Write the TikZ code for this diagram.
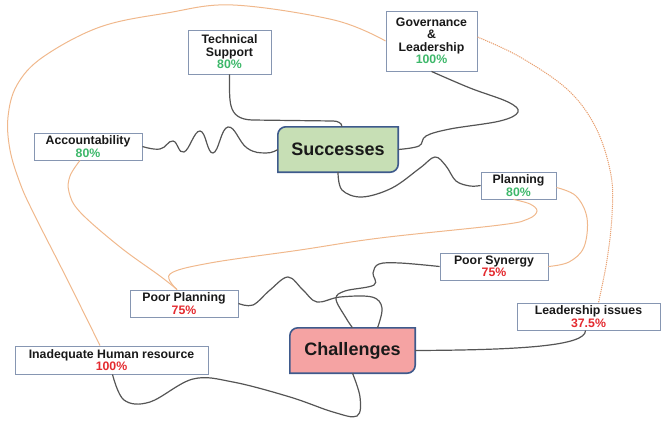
\documentclass[tikz,border=0pt]{standalone}
\usepackage{fontspec}
\setmainfont{Liberation Sans}
\usetikzlibrary{calc}
\definecolor{gtxt}{HTML}{3DB86A}
\definecolor{rtxt}{HTML}{E42A2F}
\definecolor{boxline}{HTML}{8696B2}
\definecolor{bigline}{HTML}{3E5A8C}
\definecolor{sfill}{HTML}{C7DFB5}
\definecolor{cfill}{HTML}{F5A3A3}
\definecolor{conn}{HTML}{555555}
\definecolor{orng}{HTML}{F0B88C}
\definecolor{orngd}{HTML}{E8A070}
\pgfdeclarelayer{bg}
\pgfsetlayers{bg,main}
\begin{document}
\begin{tikzpicture}[x=1pt,y=-1pt,
  lbl/.style={draw=boxline, line width=0.9pt, fill=white, align=center, inner sep=0pt,
    font=\fontsize{12.3}{12.5}\selectfont\bfseries, text=black!90},
  bignode/.style={inner sep=0pt, font=\fontsize{18}{20}\selectfont\bfseries, text=black!90},
  bigshape/.style={draw=bigline, line width=1.6pt},
  con/.style={draw=conn, line width=1.2pt},
  oline/.style={draw=orng, line width=1pt},
  odot/.style={draw=orngd, line width=1pt, dash pattern=on 1.2pt off 0.9pt}]
\useasboundingbox (0,0) rectangle (669,423);

% nodes
\node[lbl, minimum width=83pt, minimum height=44pt] (ts) at (229.5,52) {Technical\\Support\\\textcolor{gtxt}{80\%}};
\node[lbl, minimum width=91pt, minimum height=60pt] (gov) at (431.5,41) {Governance\\\&\\Leadership\\\textcolor{gtxt}{100\%}};
\node[lbl, minimum width=108pt, minimum height=27pt] (acc) at (88,146.5) {Accountability\\\textcolor{gtxt}{80\%}};
\node[bignode, minimum width=120pt, minimum height=45pt] (s) at (338,149.5) {Successes};
\node[lbl, minimum width=75pt, minimum height=27pt] (pl) at (518.5,185.5) {Planning\\\textcolor{gtxt}{80\%}};
\node[lbl, minimum width=108pt, minimum height=27pt] (psy) at (494,266.5) {Poor Synergy\\\textcolor{rtxt}{75\%}};
\node[lbl, minimum width=108pt, minimum height=27pt] (pp) at (184,303.5) {Poor Planning\\\textcolor{rtxt}{75\%}};
\node[lbl, minimum width=143pt, minimum height=27pt] (li) at (588.5,316.5) {Leadership issues\\\textcolor{rtxt}{37.5\%}};
\node[bignode, minimum width=125pt, minimum height=45pt] (ch) at (352.5,350.5) {Challenges};
\node[lbl, minimum width=193pt, minimum height=28pt] (ih) at (111.5,360) {Inadequate Human resource\\\textcolor{rtxt}{100\%}};

\begin{pgfonlayer}{bg}
\path[bigshape, fill=sfill] (s.south west) -- ([yshift=-8pt]s.north west) to[out=90,in=180] ([xshift=8pt]s.north west) -- (s.north east) -- ([yshift=8pt]s.south east) to[out=-90,in=0] ([xshift=-8pt]s.south east) -- cycle;
\path[bigshape, fill=cfill] (ch.south west) -- ([yshift=-8pt]ch.north west) to[out=90,in=180] ([xshift=8pt]ch.north west) -- (ch.north east) -- ([yshift=8pt]ch.south east) to[out=-90,in=0] ([xshift=-8pt]ch.south east) -- cycle;
\end{pgfonlayer}

% gray connectors
\draw[con] (ts.south) .. controls (230,100) and (226,119) .. (252,120) -- (333,121) to[out=0,in=90] ([xshift=4pt]s.north);
\draw[con] plot[smooth, tension=0.75] coordinates {(acc.east) (160,149) (173,141) (184,152) (200,131) (213,153) (228,127) (247,148) (266,153) (s.west)};
\draw[con] plot[smooth, tension=0.6] coordinates {(gov.south) (470,88) (508,102) (518,112) (500,121) (450,129) (426,136) (419,146) (s.east)};
\draw[con] plot[smooth, tension=0.6] coordinates {(s.south) (342,190) (362,197) (392,188) (420,168) (435,157) (446,166) (456,181) (470,186) (pl.west)};
\draw[con] plot[smooth, tension=0.6] coordinates {(pp.east) (253,305) (270,290) (288,277) (303,290) (317,302) (340,297) (372,297) (382,308) ([xshift=25pt]ch.north)};
\draw[con] plot[smooth, tension=0.6] coordinates {(psy.west) (400,263) (379,264) (373,273) (374,285) (345,291) (336,299) (346,318) (ch.north)};
\draw[con] (ch.east) .. controls (520,350) and (586,346) .. ([xshift=-3pt]li.south);
\draw[con] plot[smooth, tension=0.6] coordinates {(ch.south) (360,397) (357,416) (333,412) (290,397) (233,382) (193,379) (150,402) (124,400) ([xshift=1pt]ih.south)};

% orange connectors
\draw[oline] plot[smooth, tension=0.6] coordinates {(gov.west) (334,20) (233,5) (167,13) (100,27) (43,57) (17,85) (8,117) (10,150) (20,183) (33,212) (67,279) ([xshift=-11.5pt]ih.north)};
\draw[odot] plot[smooth, tension=0.6] coordinates {([yshift=4pt]gov.east) (520,57) (568,90) (596,128) (611,175) (612,215) (607,260) ([xshift=10pt]li.north)};
\draw[oline] plot[smooth, tension=0.6] coordinates {([xshift=-8pt]acc.south) (70,176) (69,192) (80,212) (120,247) (160,276) ([xshift=-7pt]pp.north)};
\draw[oline] plot[smooth, tension=0.6] coordinates {([xshift=-5pt]pl.south) (530,204) (537,211) (528,219) (500,225) (380,238) (300,250) (210,263) (170,274) ([xshift=-7pt]pp.north)};
\draw[oline] plot[smooth, tension=0.6] coordinates {([yshift=-2pt]pl.east) (576,196) (587,218) (584,247) (569,262) (psy.east)};
\end{tikzpicture}
\end{document}
